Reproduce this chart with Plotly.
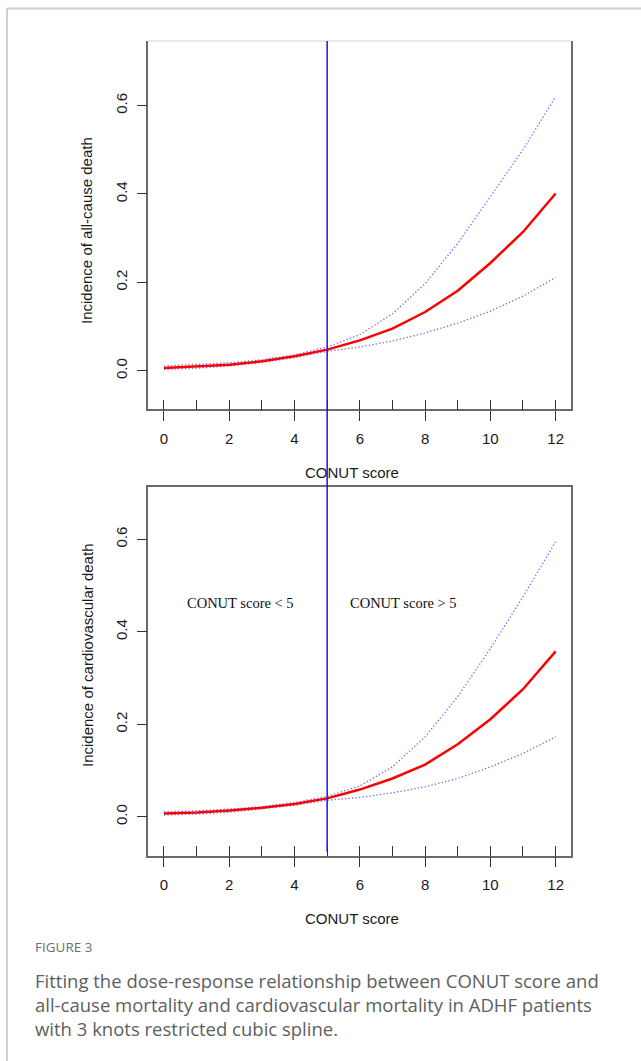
import plotly.graph_objects as go

W, H = 641, 1061

# ---------------- data ----------------
conut = [0, 1, 2, 3, 4, 5, 6, 7, 8, 9, 10, 11, 12]
x_tick_labels = [0, 2, 4, 6, 8, 10, 12]
y_tick_vals = [0.0, 0.2, 0.4, 0.6]
y_tick_text = ["0.0", "0.2", "0.4", "0.6"]
cutoff = 5

allcause_est = [0.0064, 0.0095, 0.014, 0.0215, 0.033, 0.048, 0.069, 0.0955, 0.133, 0.181, 0.244, 0.314, 0.401]
allcause_upper = [0.011, 0.014, 0.018, 0.025, 0.036, 0.054, 0.082, 0.129, 0.197, 0.288, 0.394, 0.500, 0.620]
allcause_lower = [0.003, 0.006, 0.011, 0.019, 0.030, 0.044, 0.054, 0.0675, 0.0856, 0.108, 0.135, 0.169, 0.211]

cardio_est = [0.0073, 0.0095, 0.0138, 0.0195, 0.028, 0.040, 0.059, 0.083, 0.113, 0.157, 0.211, 0.276, 0.358]
cardio_upper = [0.011, 0.013, 0.017, 0.022, 0.031, 0.044, 0.067, 0.108, 0.173, 0.260, 0.364, 0.476, 0.595]
cardio_lower = [0.004, 0.006, 0.010, 0.017, 0.025, 0.036, 0.042, 0.052, 0.065, 0.083, 0.108, 0.137, 0.173]

caption_label = "FIGURE 3"
caption_lines = [
    "Fitting the dose-response relationship between CONUT score and",
    "all-cause mortality and cardiovascular mortality in ADHF patients",
    "with 3 knots restricted cubic spline.",
]


def py(px):
    return 1 - px / H


def pxx(px):
    return px / W


AX_FONT = dict(family="Liberation Sans, Arial, sans-serif", size=15, color="#1a1a1a")
CI_LINE = dict(color="rgba(40,40,255,0.7)", width=1.3, dash="1.3px,2.2px")
EST_LINE = dict(color="#ff0000", width=2.5)

fig = go.Figure()
panels = [
    (allcause_est, allcause_upper, allcause_lower, "x", "y"),
    (cardio_est, cardio_upper, cardio_lower, "x2", "y2"),
]
for est, up, lo, xa, ya in panels:
    fig.add_trace(go.Scatter(x=conut, y=up, mode="lines", line=CI_LINE, xaxis=xa, yaxis=ya, showlegend=False))
    fig.add_trace(go.Scatter(x=conut, y=lo, mode="lines", line=CI_LINE, xaxis=xa, yaxis=ya, showlegend=False))
    fig.add_trace(go.Scatter(x=conut, y=est, mode="lines", line=EST_LINE, xaxis=xa, yaxis=ya, showlegend=False))

x_dom = [pxx(148.3), pxx(571.3)]


def xaxis_cfg(anchor, mirror):
    return dict(
        domain=x_dom, range=[-0.48, 12.48], anchor=anchor,
        tickmode="array", tickvals=x_tick_labels, ticktext=[str(v) for v in x_tick_labels],
        ticks="outside", ticklen=10, tickwidth=1, tickcolor="#333",
        minor=dict(tickmode="array", tickvals=conut, ticks="inside", ticklen=10, tickwidth=1, tickcolor="#333"),
        showline=True, linecolor="#6a6a6a", linewidth=1.5, mirror=mirror,
        showgrid=False, zeroline=False, tickfont=AX_FONT, ticklabelstandoff=5,
    )


def yaxis_cfg(anchor, dom, rng):
    return dict(
        domain=dom, range=rng, anchor=anchor,
        tickmode="array", tickvals=y_tick_vals, ticktext=y_tick_text,
        ticks="outside", ticklen=10, tickwidth=1, tickcolor="#333", tickangle=-90,
        showline=True, linecolor="#6a6a6a", linewidth=1.5, mirror=True,
        showgrid=False, zeroline=False, tickfont=AX_FONT, ticklabelstandoff=4,
    )


fig.update_layout(
    width=W, height=H, autosize=False,
    margin=dict(l=0, r=0, t=0, b=0),
    paper_bgcolor="white", plot_bgcolor="white",
    xaxis=xaxis_cfg("y", False),
    xaxis2=xaxis_cfg("y2", True),
    yaxis=yaxis_cfg("x", [py(409.3), py(41)], [-0.087, 0.746]),
    yaxis2=yaxis_cfg("x2", [py(855.7), py(486.7)], [-0.084, 0.714]),
)

shapes = [
    # light top border of upper panel
    dict(type="line", xref="paper", yref="paper", x0=x_dom[0], x1=x_dom[1], y0=py(41), y1=py(41),
         line=dict(color="#e2e2e2", width=1.5), layer="above"),
    # cut-off line
    dict(type="line", xref="x", yref="paper", x0=cutoff, x1=cutoff, y0=py(851.7), y1=py(41),
         line=dict(color="#1414e6", width=1.5), layer="above"),
    # outer figure frame
    dict(type="line", xref="paper", yref="paper", x0=pxx(7), x1=pxx(7), y0=0, y1=py(8.5),
         line=dict(color="#cfcfcf", width=2)),
    dict(type="line", xref="paper", yref="paper", x0=pxx(7), x1=1, y0=py(8.5), y1=py(8.5),
         line=dict(color="#cfcfcf", width=2)),
]
fig.update_layout(shapes=shapes)

ann = []
ann.append(dict(text="CONUT score", xref="paper", yref="paper", x=pxx(352), y=py(472),
                showarrow=False, font=AX_FONT, xanchor="center", yanchor="middle"))
ann.append(dict(text="CONUT score", xref="paper", yref="paper", x=pxx(352), y=py(918),
                showarrow=False, font=AX_FONT, xanchor="center", yanchor="middle"))
ann.append(dict(text="Incidence of all-cause death", xref="paper", yref="paper", x=pxx(87), y=py(231),
                showarrow=False, font=AX_FONT, textangle=-90, xanchor="center", yanchor="middle"))
ann.append(dict(text="Incidence of cardiovascular death", xref="paper", yref="paper", x=pxx(87), y=py(656),
                showarrow=False, font=AX_FONT, textangle=-90, xanchor="center", yanchor="middle"))
SERIF = dict(family="Liberation Serif, Times New Roman, serif", size=14.5, color="#111")
ann.append(dict(text="CONUT score &lt; 5", xref="x2", yref="y2", x=2.35, y=0.462,
                showarrow=False, font=SERIF, xanchor="center", yanchor="middle"))
ann.append(dict(text="CONUT score &gt; 5", xref="x2", yref="y2", x=7.34, y=0.462,
                showarrow=False, font=SERIF, xanchor="center", yanchor="middle"))

CAP_FONT = dict(family="Open Sans, Noto Sans, sans-serif", size=18.5, color="#5e5e5e")
ann.append(dict(text=caption_label, xref="paper", yref="paper", x=pxx(33), y=py(947),
                showarrow=False, xanchor="left", yanchor="middle",
                font=dict(family="Open Sans, Noto Sans, sans-serif", size=13.5, color="#6e6e6e")))
for i, line in enumerate(caption_lines):
    ann.append(dict(text=line, xref="paper", yref="paper", x=pxx(33), y=py(980 + 24 * i),
                    showarrow=False, xanchor="left", yanchor="middle", font=CAP_FONT))
fig.update_layout(annotations=ann)

fig.write_html("out.html")
